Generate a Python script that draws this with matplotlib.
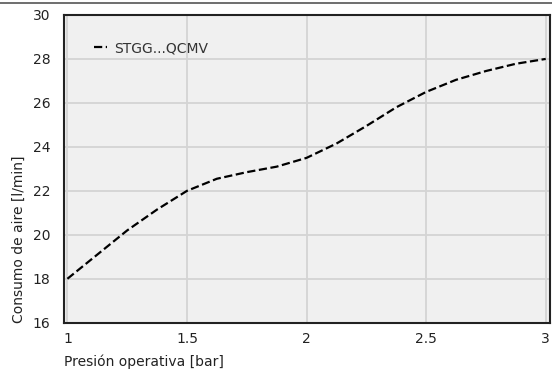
import numpy as np
import matplotlib
matplotlib.use("Agg")
import matplotlib.pyplot as plt
from matplotlib.lines import Line2D

# values
presion = [1.0, 1.125, 1.25, 1.375, 1.5, 1.625, 1.75, 1.875, 2.0,
           2.125, 2.25, 2.375, 2.5, 2.625, 2.75, 2.875, 3.0]
consumo = [18.0, 19.1, 20.2, 21.15, 22.0, 22.55, 22.85, 23.1, 23.5,
           24.15, 24.95, 25.8, 26.5, 27.05, 27.45, 27.78, 28.0]
serie = "STGG...QCMV"
xticks = [1, 1.5, 2, 2.5, 3]
xticklabels = ["1", "1.5", "2", "2.5", "3"]
yticks = [16, 18, 20, 22, 24, 26, 28, 30]

fig = plt.figure(figsize=(5.52, 3.74), dpi=100)
ax = fig.add_axes([0.116, 0.137, 0.88, 0.823])
ax.set_facecolor("#f0f0f0")

ax.plot(presion, consumo, ls="--", color="black", lw=1.6, label=serie)

ax.set_xlim(0.986, 3.017)
ax.set_ylim(16, 30)
ax.set_xticks(xticks)
ax.set_xticklabels(xticklabels)
ax.set_yticks(yticks)
ax.tick_params(length=0, labelsize=10, colors="#222222")
ax.tick_params(axis="x", pad=7)
ax.tick_params(axis="y", pad=10)
ax.grid(True, color="#d4d4d4", lw=1.3)
ax.set_axisbelow(True)
for s in ax.spines.values():
    s.set_color("#222222")
    s.set_linewidth(1.5)

ax.set_xlabel("Presión operativa [bar]", loc="left", fontsize=10,
              color="#222222", labelpad=6)
ax.set_ylabel("Consumo de aire [l/min]", loc="bottom", fontsize=10,
              color="#222222", labelpad=5)

leg = ax.legend(loc="upper left", frameon=False, fontsize=10, handlelength=1.0,
                handletextpad=0.5, bbox_to_anchor=(0.035, 0.955))
for t in leg.get_texts():
    t.set_color("#333333")

# thin rule across the top of the figure
fig.add_artist(Line2D([0, 1], [0.992, 0.992], transform=fig.transFigure,
                      color="#555555", lw=1.2))

fig.savefig("out.png", dpi=100)
